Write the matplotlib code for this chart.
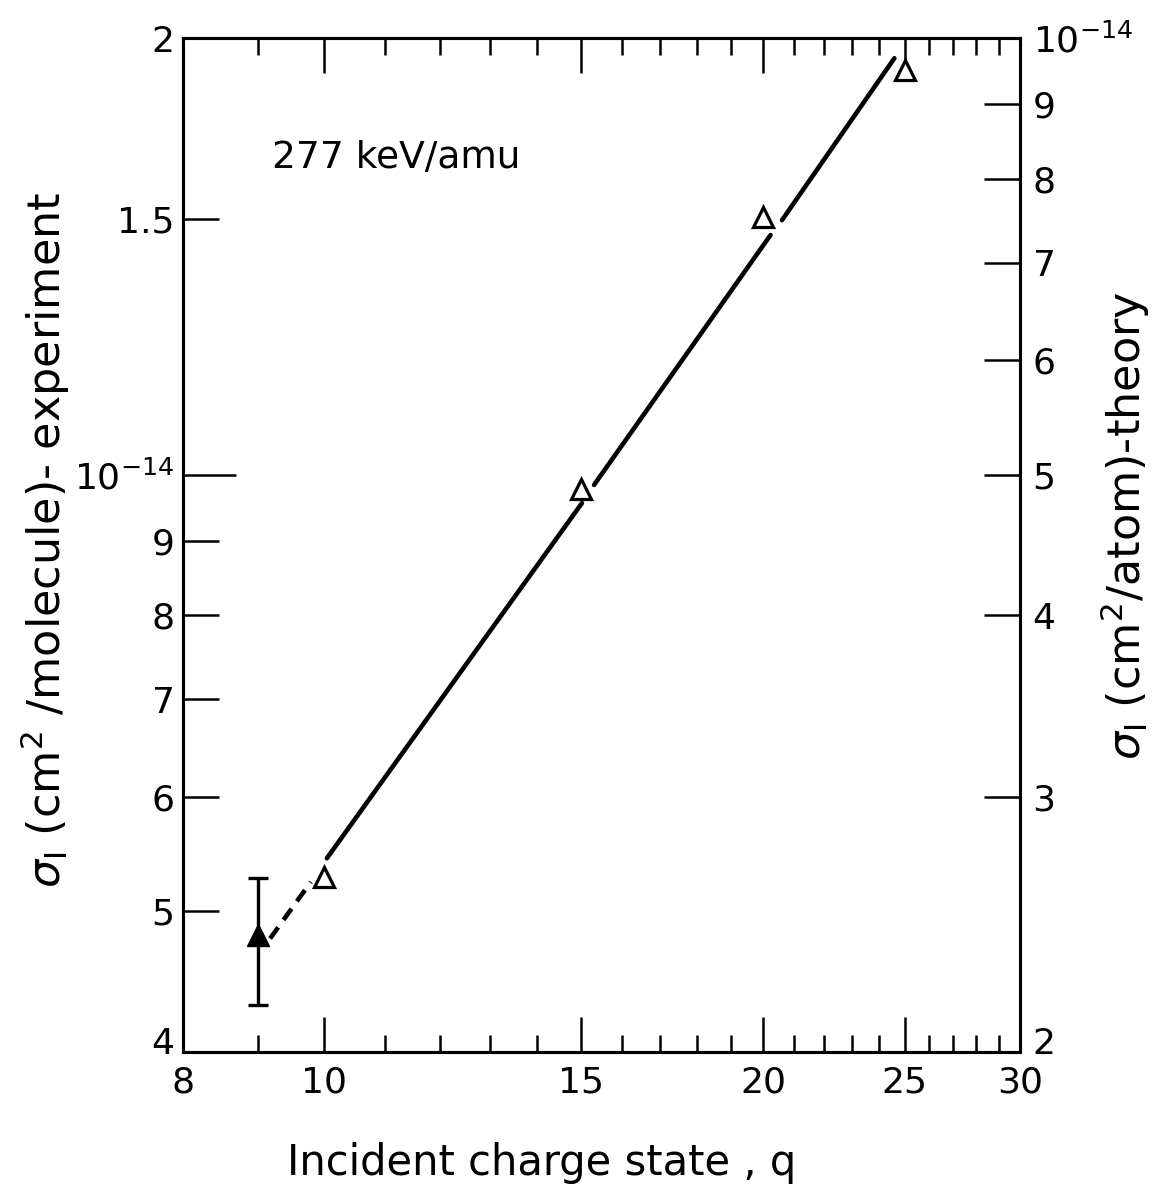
import matplotlib.pyplot as plt
import numpy as np
from matplotlib.ticker import FixedLocator, FixedFormatter, NullLocator, NullFormatter
from matplotlib.transforms import ScaledTranslation

plt.rcParams['font.family'] = ['DejaVu Sans']
plt.rcParams['mathtext.fontset'] = 'dejavusans'

# experiment, left axis (cm^2/molecule)
exp_q = [9]
exp_sigma = [4.82e-15]
exp_lo = [4.31e-15]
exp_hi = [5.27e-15]

# theory, right axis (cm^2/atom)
theory_q = [10, 15, 20, 25]
theory_sigma = [2.64e-15, 4.89e-15, 7.53e-15, 9.50e-15]

# hand drawn curve, left axis units; nan = break around the open triangles
curve_q = [10.04, 15.02, np.nan, 15.31, 20.23, np.nan, 20.6, 24.6]
curve_sigma = [5.44e-15, 9.56e-15, np.nan, 9.84e-15, 14.63e-15, np.nan, 14.98e-15, 19.37e-15]
dash_q = [9.18, 9.79]
dash_sigma = [4.79e-15, 5.24e-15]

x_major = [8, 10, 15, 20, 25, 30]
x_labels = ['8', '10', '15', '20', '25', '30']
x_minor = [9, 11, 12, 13, 14, 16, 17, 18, 19, 21, 22, 23, 24, 26, 27, 28, 29]

left_ticks = [4e-15, 5e-15, 6e-15, 7e-15, 8e-15, 9e-15, 1e-14, 1.5e-14, 2e-14]
left_labels = ['4', '5', '6', '7', '8', '9', r'$10^{-14}$', '1.5', '2']
right_ticks = [2e-15, 3e-15, 4e-15, 5e-15, 6e-15, 7e-15, 8e-15, 9e-15, 1e-14]
right_labels = ['2', '3', '4', '5', '6', '7', '8', '9', r'$10^{-14}$']

fig = plt.figure(figsize=(11.53, 11.97), dpi=100)
ax = fig.add_axes([0.1587, 0.1211, 0.7260, 0.8471])
ax2 = ax.twinx()

for a in (ax, ax2):
    for s in a.spines.values():
        s.set_linewidth(2.2)

ax.set_xscale('log')
ax.set_yscale('log')
ax.set_xlim(8, 30)
ax.set_ylim(4e-15, 2e-14)
ax2.set_yscale('log')
ax2.set_ylim(2e-15, 1e-14)

ax.xaxis.set_major_locator(FixedLocator(x_major))
ax.xaxis.set_major_formatter(FixedFormatter(x_labels))
ax.xaxis.set_minor_locator(FixedLocator(x_minor))
ax.xaxis.set_minor_formatter(NullFormatter())
ax.yaxis.set_major_locator(FixedLocator(left_ticks))
ax.yaxis.set_major_formatter(FixedFormatter(left_labels))
ax.yaxis.set_minor_locator(NullLocator())
ax2.yaxis.set_major_locator(FixedLocator(right_ticks))
ax2.yaxis.set_major_formatter(FixedFormatter(right_labels))
ax2.yaxis.set_minor_locator(NullLocator())

ax.tick_params(axis='x', which='both', direction='in', top=True, bottom=True,
               width=1.8, labelsize=26, pad=10)
ax.tick_params(axis='x', which='major', length=25)
ax.tick_params(axis='x', which='minor', length=12)
ax.tick_params(axis='y', which='both', direction='in', left=True, right=False,
               length=26, width=1.8, labelsize=26, pad=6)
ax2.tick_params(axis='y', which='both', direction='in', left=False, right=True,
                length=26, width=1.8, labelsize=26, pad=9)

# the 10^-14 tick on the left is drawn longer
ax.yaxis.get_major_ticks()[6].tick1line.set_markersize(38)

# corner labels sit a little above the axis line so they clear "8" and "30"
up = ScaledTranslation(0, 8 / 72, fig.dpi_scale_trans)
fig.canvas.draw()
for lab in (ax.yaxis.get_major_ticks()[0].label1, ax2.yaxis.get_major_ticks()[0].label2):
    lab.set_transform(lab.get_transform() + up)

# dashed extension and solid curve
ax.plot(dash_q, dash_sigma, color='black', lw=3.3, dashes=(3, 2), solid_capstyle='round')
ax.plot(curve_q, curve_sigma, color='black', lw=3.3, solid_capstyle='round')

# experimental point with error bar
yerr = [[exp_sigma[0] - exp_lo[0]], [exp_hi[0] - exp_sigma[0]]]
ax.errorbar(exp_q, exp_sigma, yerr=yerr, fmt='^', color='black', ms=16,
            elinewidth=2.4, capsize=7, capthick=2.4)

# theory points
ax2.plot(theory_q, theory_sigma, '^', ms=15, mfc='white', mec='black', mew=2.3)

ax.text(0.106, 0.882, '277 keV/amu', transform=ax.transAxes, fontsize=27,
        ha='left', va='center')

fig.text(0.470, 0.018, 'Incident charge state , q', fontsize=30,
         ha='center', va='baseline')
fig.text(0.039, 0.549, r'$\sigma_{\rm I}$ (cm$^{2}$ /molecule)- experiment',
         fontsize=32, rotation=90, ha='center', va='center')
fig.text(0.976, 0.561, r'$\sigma_{\rm I}$ (cm$^{2}$/atom)-theory',
         fontsize=32, rotation=90, ha='center', va='center')

fig.savefig('out.png', dpi=100)
